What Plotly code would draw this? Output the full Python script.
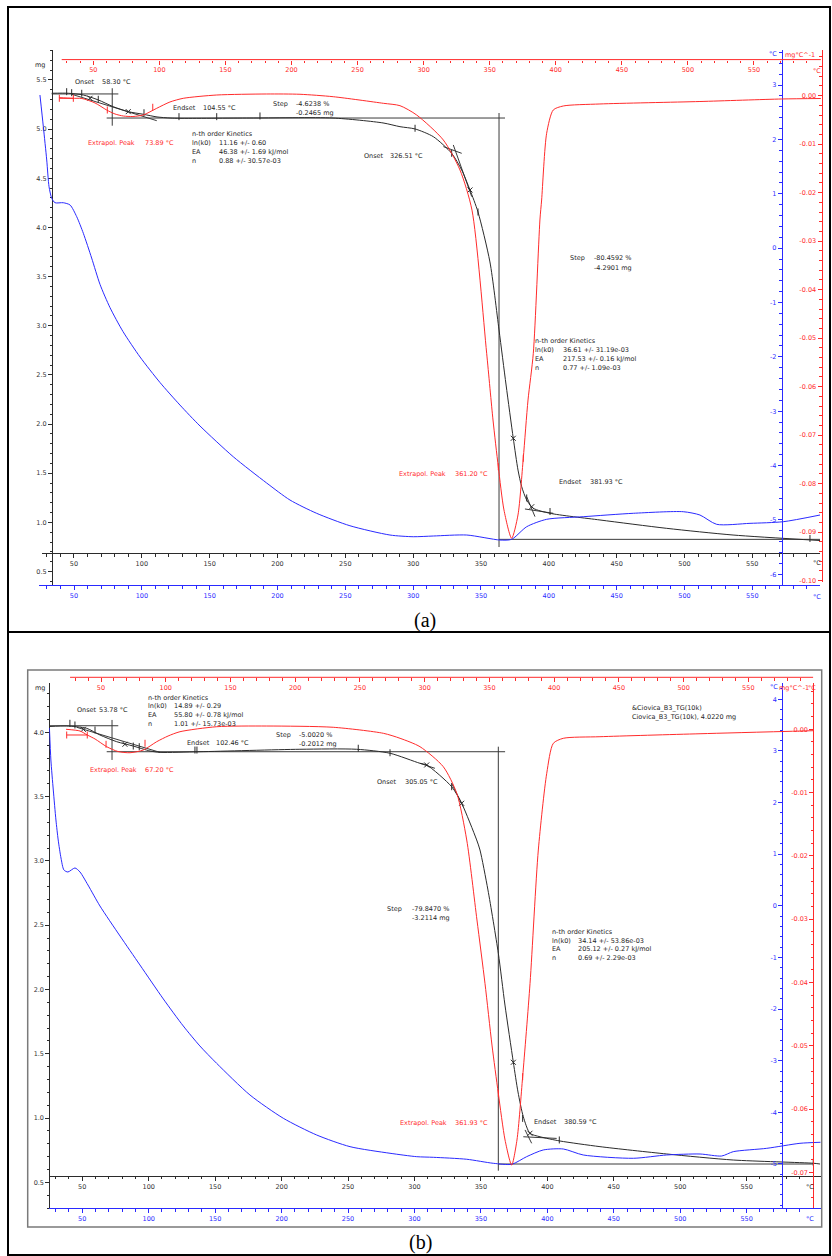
import plotly.graph_objects as go

W, H = 832, 1256
FONT = "DejaVu Sans"
BLACK = "#2b2b2b"
RED = "#ff2b2b"
BLUE = "#2a2aff"
TXT = "#262626"

# ---------------- Panel (a) data ----------------
a_tg_T = [33.6, 45.8, 56.9, 67.9, 79.0, 90.0, 101.1, 111.2, 120.8, 128.1, 179.7, 240.9, 277.8, 290.3,
          301.4, 314.9, 328.4, 335.8, 341.9, 347.8, 356.6, 363.3, 368.5, 373.8, 377.3, 380.0, 383.7,
          388.6, 400.9, 437.7, 486.9, 535.8, 599.9]
a_tg_m = [5.365, 5.365, 5.347, 5.297, 5.228, 5.178, 5.151, 5.124, 5.113, 5.110, 5.113, 5.113, 5.063, 5.025,
          5.002, 4.923, 4.754, 4.584, 4.381, 4.157, 3.649, 2.957, 2.397, 1.855, 1.532, 1.363, 1.227,
          1.143, 1.092, 1.024, 0.939, 0.871, 0.815]

a_dtg_T = [24.0, 33.9, 41.4, 51.3, 60.1, 66.4, 72.7, 80.0, 87.8, 98.0, 108.0, 118.1, 143.4, 181.2, 206.4,
           231.6, 269.5, 282.1, 294.7, 314.9, 327.5, 336.6, 347.7, 352.5, 356.5, 360.8, 366.6, 371.4,
           375.4, 379.0, 383.0, 388.0, 389.3, 393.1, 398.1, 405.7, 433.4, 509.1, 570.9, 600.6]
a_dtg = [-0.0004, -0.00054, -0.00058, -0.0015, -0.00295, -0.00377, -0.00419, -0.00429, -0.00398, -0.0026,
         -0.0013, -0.00054, 0.00014, 0.00035, 0.00029, -0.00021, -0.00157, -0.00206, -0.00398, -0.00913,
         -0.01532, -0.0236, -0.05311, -0.06687, -0.0765, -0.08542, -0.09126, -0.08645, -0.07476, -0.06274,
         -0.05311, -0.02563, -0.02151, -0.00775, -0.00295, -0.00212, -0.00171, -0.0012, -0.00068, -0.00058]

a_dta_T = [24.9, 27.4, 29.9, 31.6, 33.6, 36.0, 42.1, 47.1, 52.0, 56.9, 63.0, 69.2, 76.5, 86.1, 98.7, 113.4,
           128.1, 142.9, 167.4, 192.0, 209.2, 228.9, 253.4, 282.9, 300.1, 314.9, 339.5, 364.0, 372.6,
           383.7, 398.4, 425.4, 462.3, 499.1, 511.4, 523.7, 548.3, 572.8, 599.9]
a_dta = [2.816, 2.233, 1.621, 1.130, 0.916, 0.835, 0.835, 0.793, 0.578, 0.272, -0.182, -0.669, -1.092,
         -1.534, -2.003, -2.472, -2.886, -3.272, -3.837, -4.320, -4.633, -4.878, -5.106, -5.277, -5.308,
         -5.295, -5.277, -5.369, -5.356, -5.124, -4.988, -4.940, -4.877, -4.848, -4.909, -5.080, -5.062,
         -5.032, -4.909]

a_con_T = [33.6, 82.7, None, 78.2, 78.2, None, 74.1, 367.7, None, 363.3, 363.3, None, 363.3, 599.9, None,
           48.3, 111.0, None, 322.3, 335.8, None, 329.6, 343.2, None, 382.4, 403.3, None, 383.7, 389.8]
a_con_m = [5.358, 5.358, None, 5.416, 5.035, None, 5.113, 5.113, None, 5.164, 0.749, None, 0.827, 0.827, None,
           5.355, 5.086, None, 4.822, 4.754, None, 4.839, 4.313, None, 1.136, 1.092, None, 1.261, 1.058]

a_x_T = [61.8, 90.0, 341.9, 373.8, 387.4]
a_x_m = [5.314, 5.178, 4.381, 1.855, 1.159]
a_f_T = [44.6, 48.3, 55.7, 67.9, 101.6, 127.4, 155.2, 187.1, 301.4, 328.4, 347.8, 383.7, 400.9, 592.5]
a_f_m = [5.381, 5.371, 5.365, 5.304, 5.167, 5.127, 5.127, 5.134, 5.009, 4.754, 4.157, 1.248, 1.110, 0.836]
a_rf_T = [60.6, 95.0, 356.5, 375.4]
a_rf = [-0.00295, -0.00239, -0.0765, -0.07476]
a_br_T = [24.3, 34.9]
a_br = [-0.00054, -0.00054]

# ---------------- Panel (b) data ----------------
b_tg_T = [25.2, 38.3, 53.3, 63.3, 75.9, 88.4, 100.9, 108.5, 138.6, 213.8, 256.5, 281.6, 304.1, 309.2, 328.0,
          335.5, 346.8, 349.3, 355.3, 363.1, 368.1, 374.4, 377.9, 381.9, 386.9, 394.5, 409.5, 439.6, 489.8,
          539.9, 600.1, 605.2]
b_tg_m = [4.045, 4.049, 4.031, 3.979, 3.927, 3.893, 3.855, 3.844, 3.849, 3.868, 3.868, 3.837, 3.759, 3.746,
          3.577, 3.448, 3.163, 3.085, 2.774, 2.282, 1.879, 1.434, 1.203, 1.011, 0.882, 0.855, 0.822, 0.778,
          0.721, 0.674, 0.649, 0.643]

b_dtg_T = [23.0, 33.8, 39.4, 45.4, 54.4, 63.1, 72.4, 82.7, 93.0, 101.8, 111.0, 139.4, 178.0, 229.4, 268.1,
           281.0, 296.4, 314.4, 324.8, 332.5, 340.4, 346.6, 352.0, 356.9, 362.1, 367.2, 371.3, 375.7, 381.4,
           387.8, 394.3, 399.4, 407.1, 435.4, 512.7, 600.2]
b_dtg = [0.0, -0.00027, -0.0009, -0.00153, -0.00275, -0.00351, -0.0037, -0.00327, -0.00196, -0.00106,
         -0.00038, 0.00041, 0.00052, 0.00032, -0.00063, -0.00142, -0.00275, -0.00591, -0.01011, -0.01749,
         -0.03013, -0.04014, -0.04989, -0.05752, -0.0649, -0.06885, -0.0649, -0.05489, -0.04014, -0.01907,
         -0.00695, -0.00221, -0.00142, -0.00117, -0.0007, -0.00022]

b_dta_T = [25.3, 26.4, 28.2, 30.2, 31.9, 34.0, 36.2, 39.2, 44.5, 48.3, 54.3, 63.3, 78.4, 93.4, 111.0, 126.0,
           138.5, 151.1, 176.2, 201.3, 226.4, 251.5, 281.6, 301.7, 314.2, 339.3, 359.3, 373.2, 384.4, 396.9,
           412.0, 427.0, 464.7, 489.8, 514.9, 531.2, 539.9, 565.1, 590.1, 605.7]
b_dta = [3.444, 2.824, 2.243, 1.662, 1.275, 0.926, 0.694, 0.655, 0.733, 0.655, 0.403, -0.003, -0.584,
         -1.146, -1.804, -2.327, -2.714, -3.050, -3.664, -4.115, -4.439, -4.665, -4.793, -4.859, -4.871,
         -4.909, -4.987, -5.006, -4.859, -4.729, -4.710, -4.826, -4.890, -4.826, -4.807, -4.846, -4.762,
         -4.697, -4.600, -4.580]

b_con_T = [25.2, 77.1, None, 72.4, 72.4, None, 68.4, 368.2, None, 363.1, 363.1, None, 363.1, 600.1, None,
           45.8, 108.5, None, 304.1, 315.4, None, 328.0, 336.7, None, 381.9, 407.0, None, 383.2, 388.2]
b_con_m = [4.051, 4.051, None, 4.096, 3.785, None, 3.849, 3.849, None, 3.888, 0.591, None, 0.643, 0.643, None,
           4.039, 3.844, None, 3.759, 3.72, None, 3.603, 3.421, None, 0.855, 0.842, None, 0.908, 0.804]

b_x_T = [50.8, 82.1, 309.2, 335.5, 374.4, 386.9]
b_x_m = [4.023, 3.907, 3.746, 3.448, 1.434, 0.882]
b_f_T = [40.7, 44.5, 59.6, 88.4, 92.9, 134.8, 136.3, 257.7, 281.6, 328.0, 381.4, 409.0, 600.1]
b_f_m = [4.07, 4.057, 4.018, 3.893, 3.888, 3.862, 3.862, 3.876, 3.841, 3.577, 0.998, 0.830, 0.656]
b_rf_T = [53.9, 84.0, 356.9, 375.7]
b_rf = [-0.00237, -0.00221, -0.05752, -0.05489]
b_br_T = [23.5, 39.4]
b_br = [-0.0009, -0.0009]

# ---------------- tick values ----------------
X_MAJOR = list(range(50, 551, 50))
X_MINOR = [v for v in range(30, 601, 10) if v % 50]


def frange(a, b, s, nd):
    out, v = [], a
    while v <= b + s / 2:
        out.append(round(v, nd))
        v += s
    return out


def px(x):
    return x / W


def py(y):
    return 1 - y / H


fig = go.Figure()


def lines(x, y, xa, ya, color, shape="spline", width=1.0):
    fig.add_trace(go.Scatter(x=x, y=y, xaxis=xa, yaxis=ya, mode="lines",
                             line=dict(color=color, width=width, shape=shape, smoothing=0.7),
                             hoverinfo="skip", connectgaps=False))


def marks(x, y, xa, ya, color, symbol, size=5):
    fig.add_trace(go.Scatter(x=x, y=y, xaxis=xa, yaxis=ya, mode="markers",
                             marker=dict(symbol=symbol, size=size, color=color,
                                         line=dict(width=1, color=color)),
                             hoverinfo="skip", cliponaxis=False))


# panel (a)
lines(a_dta_T, a_dta, "x2", "y2", BLUE)
lines(a_dtg_T, a_dtg, "x3", "y3", RED)
lines(a_br_T, a_br, "x3", "y3", RED, shape="linear")
marks(a_br_T, a_br, "x3", "y3", RED, "line-ns-open", 5)
marks(a_rf_T, a_rf, "x3", "y3", RED, "line-ns-open", 5)
lines(a_con_T, a_con_m, "x", "y", "#3a3a3a", shape="linear")
lines(a_tg_T, a_tg_m, "x", "y", BLACK)
marks(a_x_T, a_x_m, "x", "y", BLACK, "x-thin-open", 5)
marks(a_f_T, a_f_m, "x", "y", BLACK, "line-ns-open", 5)

# panel (b)
lines(b_dta_T, b_dta, "x5", "y5", BLUE)
lines(b_dtg_T, b_dtg, "x6", "y6", RED)
lines(b_br_T, b_br, "x6", "y6", RED, shape="linear")
marks(b_br_T, b_br, "x6", "y6", RED, "line-ns-open", 5)
marks(b_rf_T, b_rf, "x6", "y6", RED, "line-ns-open", 5)
lines(b_con_T, b_con_m, "x4", "y4", "#3a3a3a", shape="linear")
lines(b_tg_T, b_tg_m, "x4", "y4", BLACK)
marks(b_x_T, b_x_m, "x4", "y4", BLACK, "x-thin-open", 5)
marks(b_f_T, b_f_m, "x4", "y4", BLACK, "line-ns-open", 5)


def xaxis(dom, rng, ypos, color, tcolor, showline=True):
    return dict(domain=[px(dom[0]), px(dom[1])], range=rng, anchor="free", position=py(ypos),
                side="bottom", showline=showline, linecolor=color, linewidth=1,
                ticks="outside", ticklen=4, tickwidth=1, tickcolor=color,
                tickmode="array", tickvals=X_MAJOR, ticktext=[str(v) for v in X_MAJOR],
                tickfont=dict(family=FONT, size=6.5, color=tcolor),
                minor=dict(tickmode="array", tickvals=X_MINOR, ticks="outside", ticklen=2.5,
                           tickwidth=1, tickcolor=color),
                showgrid=False, zeroline=False, fixedrange=True, automargin=False)


def yaxis(dom, rng, xpos, color, tcolor, major, labels, minor):
    return dict(domain=[py(dom[1]), py(dom[0])], range=rng, anchor="free", position=px(xpos),
                side="left", showline=True, linecolor=color, linewidth=1,
                ticks="outside", ticklen=4, tickwidth=1, tickcolor=color,
                tickmode="array", tickvals=major, ticktext=labels,
                tickfont=dict(family=FONT, size=6.5, color=tcolor),
                minor=dict(tickmode="array", tickvals=minor, ticks="outside", ticklen=2.5,
                           tickwidth=1, tickcolor=color),
                showgrid=False, zeroline=False, fixedrange=True, automargin=False)


# y tick sets
ya_major = frange(0.5, 5.5, 0.5, 1)
ya_minor = [v for v in frange(0.4, 5.8, 0.1, 1) if round(v * 10) % 5]
yb_major = frange(0.5, 4.0, 0.5, 1)
yb_minor = [v for v in frange(0.3, 4.3, 0.1, 1) if round(v * 10) % 5]
ba_major = list(range(-6, 4))
ba_minor = [v for v in frange(-6.2, 3.6, 0.2, 1) if abs(v - round(v)) > 1e-6]
bb_major = list(range(-5, 5))
bb_minor = [v for v in frange(-5.8, 4.2, 0.2, 1) if abs(v - round(v)) > 1e-6]
ra_major = [round(-0.01 * i, 2) for i in range(0, 11)]
ra_minor = [v for v in frange(-0.1, 0.008, 0.002, 3) if round(v * 1000) % 10]
rb_major = [round(-0.01 * i, 2) for i in range(0, 8)]
rb_minor = [v for v in frange(-0.074, 0.006, 0.002, 3) if round(v * 1000) % 10]


def lab(vals, fmt):
    return [(fmt % v) if v != 0 else fmt % 0 for v in vals]


fig.update_layout(
    width=W, height=H, margin=dict(l=0, r=0, t=0, b=0),
    paper_bgcolor="white", plot_bgcolor="rgba(0,0,0,0)", showlegend=False,
    # panel (a)
    xaxis=xaxis([41.7, 820], [26.2, 599.9], 553.3, BLACK, "#333333"),
    xaxis2=xaxis([39, 820], [24.2, 599.9], 585, BLUE, BLUE),
    xaxis3=xaxis([52, 821.5], [18.75, 601.1], 59.6, RED, RED, showline=False),
    yaxis=yaxis([50, 585], [0.3626, 5.805], 52, BLACK, "#333333", ya_major, lab(ya_major, "%.1f"), ya_minor),
    yaxis2=yaxis([50, 585], [-6.196, 3.644], 781.7, BLUE, BLUE, ba_major, lab(ba_major, "%d"), ba_minor),
    yaxis3=yaxis([50, 582], [-0.10027, 0.00942], 821.5, RED, RED, ra_major, lab(ra_major, "%.2f"), ra_minor),
    # panel (b)
    xaxis4=xaxis([49.3, 820.7], [25.2, 605.7], 1175.7, BLACK, "#333333"),
    xaxis5=xaxis([49.3, 820.7], [25.2, 605.7], 1208.3, BLUE, BLUE),
    xaxis6=xaxis([52, 813.3], [12.15, 600.2], 677.3, RED, RED, showline=False),
    yaxis4=yaxis([683.3, 1208.3], [0.2986, 4.381], 49.3, BLACK, "#333333", yb_major, lab(yb_major, "%.1f"), yb_minor),
    yaxis5=yaxis([683.3, 1208], [-5.853, 4.31], 782.3, BLUE, BLUE, bb_major, lab(bb_major, "%d"), bb_minor),
    yaxis6=yaxis([683.3, 1208], [-0.07564, 0.00727], 813.3, RED, RED, rb_major, lab(rb_major, "%.2f"), rb_minor),
)

shapes = [
    dict(type="rect", xref="paper", yref="paper", x0=px(8), x1=px(830), y0=py(1255), y1=py(7),
         line=dict(color="black", width=2)),
    dict(type="line", xref="paper", yref="paper", x0=px(8), x1=px(830), y0=py(632), y1=py(632),
         line=dict(color="black", width=2)),
    dict(type="rect", xref="paper", yref="paper", x0=px(27.7), x1=px(821.7), y0=py(1227), y1=py(670),
         line=dict(color="#7a7a7a", width=1.5)),
    dict(type="line", xref="x3", yref="paper", x0=26.1, x1=600.6, y0=py(59.6), y1=py(59.6),
         line=dict(color=RED, width=1)),
    dict(type="line", xref="x6", yref="paper", x0=26.1, x1=600.2, y0=py(677.3), y1=py(677.3),
         line=dict(color=RED, width=1)),
]
fig.update_layout(shapes=shapes)

# text labels: (text, left x px, center y px, color)
texts = [
    # panel (a)
    ("mg", 33, 65, TXT),
    ("Onset", 72.7, 81.7, TXT), ("58.30 °C", 100, 81.7, TXT),
    ("Endset", 170.7, 108.3, TXT), ("104.55 °C", 201, 108.3, TXT),
    ("Step", 270.7, 104, TXT), ("-4.6238 %", 294, 104, TXT), ("-0.2465 mg", 294, 112.7, TXT),
    ("Extrapol. Peak", 86, 142.7, RED), ("73.89 °C", 143, 142.7, RED),
    ("n-th order Kinetics", 190, 134, TXT),
    ("ln(k0)", 190, 143, TXT), ("EA", 190, 152, TXT), ("n", 190, 160.7, TXT),
    ("11.16 +/- 0.60", 216.7, 143, TXT), ("46.38 +/- 1.69 kJ/mol", 216.7, 152, TXT),
    ("0.88 +/- 30.57e-03", 216.7, 160.7, TXT),
    ("Onset", 361.7, 156, TXT), ("326.51 °C", 388.3, 156, TXT),
    ("Step", 568.3, 258.3, TXT), ("-80.4592 %", 592.3, 258.3, TXT), ("-4.2901 mg", 592.3, 267.7, TXT),
    ("n-th order Kinetics", 533.3, 340.7, TXT),
    ("ln(k0)", 533.3, 349.7, TXT), ("EA", 533.3, 358.7, TXT), ("n", 533.3, 367.7, TXT),
    ("36.61 +/- 31.19e-03", 560.7, 349.7, TXT), ("217.53 +/- 0.16 kJ/mol", 560.7, 358.7, TXT),
    ("0.77 +/- 1.09e-03", 560.7, 367.7, TXT),
    ("Extrapol. Peak", 397, 474.3, RED), ("361.20 °C", 453.3, 474.3, RED),
    ("Endset", 556.7, 482.3, TXT), ("381.93 °C", 587.7, 482.3, TXT),
    ("°C", 767, 54, BLUE), ("mg°C^-1", 783, 55, RED), ("°C", 811, 70.7, RED),
    ("°C", 811, 563, "#333333"), ("°C", 811, 596.7, BLUE),
    # panel (b)
    ("mg", 33, 688, TXT),
    ("Onset", 75, 710, TXT), ("53.78 °C", 96.7, 710, TXT),
    ("n-th order Kinetics", 146, 697.7, TXT),
    ("ln(k0)", 146, 706.3, TXT), ("EA", 146, 715, TXT), ("n", 146, 724, TXT),
    ("14.89 +/- 0.29", 171.7, 706.3, TXT), ("55.80 +/- 0.78 kJ/mol", 171.7, 715, TXT),
    ("1.01 +/- 15.73e-03", 171.7, 724, TXT),
    ("Step", 274, 735, TXT), ("-5.0020 %", 296.7, 735, TXT), ("-0.2012 mg", 296.7, 744, TXT),
    ("Endset", 185, 742.7, TXT), ("102.46 °C", 214.3, 742.7, TXT),
    ("Extrapol. Peak", 88.3, 770, RED), ("67.20 °C", 143.3, 770, RED),
    ("Onset", 375, 782.3, TXT), ("305.05 °C", 403.3, 782.3, TXT),
    ("&Ciovica_B3_TG(10k)", 630, 708.3, TXT), ("Ciovica_B3_TG(10k), 4.0220 mg", 630, 717.3, TXT),
    ("Step", 385, 909, TXT), ("-79.8470 %", 410, 909, TXT), ("-3.2114 mg", 410, 917.7, TXT),
    ("n-th order Kinetics", 550, 932, TXT),
    ("ln(k0)", 550, 940.7, TXT), ("EA", 550, 949.3, TXT), ("n", 550, 958.3, TXT),
    ("34.14 +/- 53.86e-03", 576, 940.7, TXT), ("205.12 +/- 0.27 kJ/mol", 576, 949.3, TXT),
    ("0.69 +/- 2.29e-03", 576, 958.3, TXT),
    ("Extrapol. Peak", 398, 1123.3, RED), ("361.93 °C", 453.3, 1123.3, RED),
    ("Endset", 531.7, 1121.7, TXT), ("380.59 °C", 561.7, 1121.7, TXT),
    ("°C", 767.5, 686.7, BLUE), ("mg°C^-1", 777, 688.3, RED), ("°C", 806, 688.3, RED),
    ("°C", 804, 1187.3, "#333333"), ("°C", 804, 1219.3, BLUE),
]

anns = []
for t, x, y, c in texts:
    anns.append(dict(text=t, x=px(x), y=py(y), xref="paper", yref="paper", xanchor="left",
                     yanchor="middle", showarrow=False, font=dict(family=FONT, size=6.5, color=c)))
for t, x, y in [("(a)", 425, 620), ("(b)", 420, 1242)]:
    anns.append(dict(text=t, x=px(x), y=py(y), xref="paper", yref="paper", xanchor="center",
                     yanchor="middle", showarrow=False,
                     font=dict(family="Liberation Serif", size=20, color="black")))
fig.update_layout(annotations=anns)

fig.write_html("out.html", config={"displayModeBar": False},
               post_script="document.body.style.margin='0px';")
